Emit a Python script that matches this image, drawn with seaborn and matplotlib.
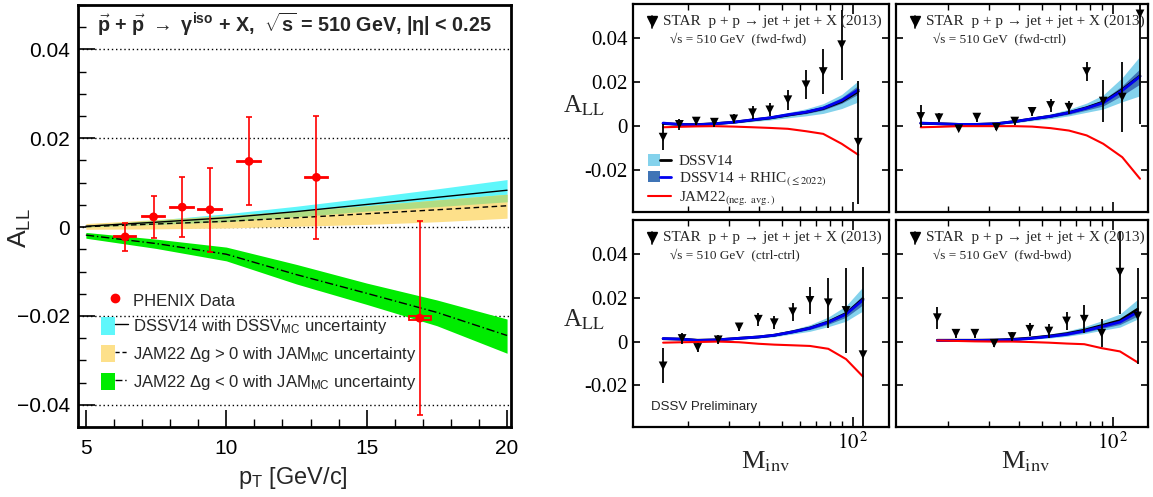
import numpy as np
import matplotlib
matplotlib.use("Agg")
import matplotlib.pyplot as plt
import seaborn as sns
from matplotlib.patches import Patch, Rectangle
from matplotlib.lines import Line2D
from matplotlib.legend_handler import HandlerTuple
from matplotlib.font_manager import FontProperties
from matplotlib.ticker import FixedLocator, MultipleLocator, FuncFormatter, NullFormatter, FixedFormatter

# ---------------- data: left panel (PHENIX isolated photons) ----------------
phenix_pt = [6.40, 7.41, 8.43, 9.42, 10.81, 13.21, 16.89]
phenix_all = [-0.0022, 0.0023, 0.0045, 0.0039, 0.0148, 0.0112, -0.0205]
phenix_stat = [0.0031, 0.0048, 0.0068, 0.0094, 0.0099, 0.0139, 0.0218]
phenix_binhw = [0.40, 0.40, 0.42, 0.42, 0.42, 0.42, 0.40]
phenix_sys = [0.0001, 0.0001, 0.0001, 0.0001, 0.0001, 0.0001, 0.0005]

theory_pt = [5.0, 7.5, 10.0, 12.5, 15.0, 17.5, 20.0]
dssv_mid = [0.0002, 0.0011, 0.0021, 0.0035, 0.0051, 0.0067, 0.0083]
dssv_hi = [0.0004, 0.0016, 0.0030, 0.0047, 0.0066, 0.0086, 0.0107]
dssv_lo = [0.0000, 0.0006, 0.0012, 0.0023, 0.0036, 0.0046, 0.0057]
jampos_mid = [0.0001, 0.0007, 0.0013, 0.0021, 0.0030, 0.0039, 0.0048]
jampos_hi = [0.0008, 0.0017, 0.0026, 0.0036, 0.0048, 0.0061, 0.0074]
jampos_lo = [-0.0005, -0.0004, -0.0002, 0.0002, 0.0006, 0.0012, 0.0020]
jamneg_mid = [-0.0018, -0.0037, -0.0061, -0.0107, -0.0149, -0.0192, -0.0244]
jamneg_hi = [-0.0012, -0.0027, -0.0045, -0.0084, -0.0126, -0.0164, -0.0207]
jamneg_lo = [-0.0025, -0.0048, -0.0076, -0.0128, -0.0174, -0.0222, -0.0284]

left_xticks = [5, 10, 15, 20]

# ---------------- data: STAR dijets, 4 topologies ----------------
ff_m = [15.7, 18.4, 21.7, 25.9, 31.3, 37.6, 44.5, 53.1, 63.4, 75.0, 89.8, 105.6]
ff_all = [-0.0050, 0.0008, 0.0023, 0.0018, 0.0033, 0.0061, 0.0074, 0.0120, 0.0188, 0.0248, 0.0370, -0.0073]
ff_err = [0.0060, 0.0025, 0.0020, 0.0020, 0.0020, 0.0030, 0.0030, 0.0045, 0.0065, 0.0104, 0.0160, 0.0280]
ff_dssv = [0.0012, 0.0008, 0.0007, 0.0011, 0.0018, 0.0028, 0.0037, 0.0050, 0.0063, 0.0080, 0.0112, 0.0158]
ff_rhic = [0.0014, 0.0008, 0.0006, 0.0011, 0.0018, 0.0029, 0.0038, 0.0052, 0.0064, 0.0082, 0.0117, 0.0165]
ff_dssv_hw = [0.0003, 0.0003, 0.0003, 0.0004, 0.0005, 0.0007, 0.0009, 0.0012, 0.0016, 0.0022, 0.0032, 0.0048]
ff_rhic_hw = [0.0002, 0.0002, 0.0002, 0.0002, 0.0003, 0.0003, 0.0004, 0.0005, 0.0007, 0.0009, 0.0013, 0.0020]
ff_jam = [-0.0005, -0.0003, -0.0001, 0.0000, -0.0002, -0.0005, -0.0008, -0.0012, -0.0023, -0.0035, -0.0080, -0.0130]

fc_m = [15.4, 18.4, 22.3, 26.6, 32.2, 38.5, 45.6, 54.6, 65.3, 77.6, 91.2, 109.8, 130.5]
fc_all = [0.0044, 0.0038, -0.0012, 0.0041, -0.0005, 0.0023, 0.0067, 0.0094, 0.0086, 0.0248, 0.0114, 0.0132, 0.0510]
fc_err = [0.0050, 0.0020, 0.0012, 0.0020, 0.0012, 0.0018, 0.0022, 0.0030, 0.0030, 0.0045, 0.0095, 0.0160, 0.0500]
fc_dssv = [0.0013, 0.0011, 0.0008, 0.0008, 0.0011, 0.0021, 0.0033, 0.0045, 0.0062, 0.0084, 0.0110, 0.0166, 0.0228]
fc_rhic = [0.0014, 0.0011, 0.0008, 0.0008, 0.0011, 0.0021, 0.0033, 0.0045, 0.0061, 0.0082, 0.0106, 0.0162, 0.0226]
fc_dssv_hw = [0.0004, 0.0003, 0.0003, 0.0003, 0.0004, 0.0006, 0.0008, 0.0011, 0.0015, 0.0021, 0.0032, 0.0055, 0.0090]
fc_rhic_hw = [0.0002, 0.0002, 0.0002, 0.0002, 0.0002, 0.0003, 0.0004, 0.0005, 0.0007, 0.0009, 0.0014, 0.0022, 0.0035]
fc_jam = [-0.0005, -0.0003, 0.0000, 0.0000, 0.0000, 0.0000, -0.0002, -0.0009, -0.0020, -0.0042, -0.0080, -0.0141, -0.0239]

cc_m = [15.7, 18.9, 22.0, 26.9, 33.0, 39.8, 46.5, 55.7, 65.9, 78.8, 93.7, 110.6]
cc_all = [-0.0111, 0.0014, -0.0027, 0.0008, 0.0067, 0.0102, 0.0086, 0.0136, 0.0188, 0.0177, 0.0142, -0.0060]
cc_err = [0.0080, 0.0025, 0.0020, 0.0020, 0.0020, 0.0030, 0.0030, 0.0040, 0.0060, 0.0115, 0.0195, 0.0400]
cc_dssv = [0.0013, 0.0011, 0.0006, 0.0008, 0.0015, 0.0021, 0.0029, 0.0045, 0.0062, 0.0090, 0.0128, 0.0195]
cc_rhic = [0.0014, 0.0011, 0.0005, 0.0008, 0.0015, 0.0021, 0.0029, 0.0044, 0.0061, 0.0088, 0.0125, 0.0190]
cc_dssv_hw = [0.0003, 0.0003, 0.0003, 0.0003, 0.0004, 0.0005, 0.0007, 0.0010, 0.0015, 0.0022, 0.0035, 0.0055]
cc_rhic_hw = [0.0002, 0.0002, 0.0002, 0.0002, 0.0002, 0.0002, 0.0003, 0.0004, 0.0006, 0.0009, 0.0014, 0.0022]
cc_jam = [-0.0005, -0.0003, -0.0002, 0.0000, -0.0003, -0.0010, -0.0014, -0.0017, -0.0020, -0.0033, -0.0080, -0.0160]

fb_m = [18.1, 21.7, 26.1, 31.5, 37.5, 44.6, 53.7, 63.8, 75.8, 89.8, 107.4, 127.6]
fb_all = [0.0109, 0.0038, 0.0038, -0.0008, 0.0023, 0.0056, 0.0048, 0.0094, 0.0102, 0.0038, 0.0317, 0.0117]
fb_err = [0.0050, 0.0020, 0.0020, 0.0015, 0.0020, 0.0030, 0.0030, 0.0040, 0.0065, 0.0065, 0.0190, 0.0220]
fb_dssv = [0.0006, 0.0006, 0.0006, 0.0007, 0.0010, 0.0016, 0.0025, 0.0036, 0.0052, 0.0073, 0.0096, 0.0148]
fb_rhic = [0.0005, 0.0005, 0.0005, 0.0006, 0.0008, 0.0014, 0.0023, 0.0033, 0.0048, 0.0068, 0.0089, 0.0135]
fb_dssv_hw = [0.0002, 0.0002, 0.0002, 0.0003, 0.0004, 0.0006, 0.0009, 0.0012, 0.0016, 0.0022, 0.0030, 0.0045]
fb_rhic_hw = [0.0001, 0.0001, 0.0001, 0.0001, 0.0002, 0.0002, 0.0003, 0.0005, 0.0006, 0.0008, 0.0011, 0.0018]
fb_jam = [0.0005, 0.0003, 0.0001, 0.0000, 0.0000, -0.0002, -0.0005, -0.0009, -0.0012, -0.0030, -0.0045, -0.0095]

topology_labels = ["(fwd-fwd)", "(fwd-ctrl)", "(ctrl-ctrl)", "(fwd-bwd)"]
right_yticks = [-0.02, 0.0, 0.02, 0.04]

# ---------------- style ----------------
sns.set_theme(style="white")
plt.rcParams["font.family"] = ["Liberation Sans", "DejaVu Sans"]
plt.rcParams["mathtext.fontset"] = "custom"
plt.rcParams["mathtext.rm"] = "Liberation Sans"
plt.rcParams["mathtext.it"] = "Liberation Sans:italic"
plt.rcParams["mathtext.bf"] = "Liberation Sans:bold"
plt.rcParams["axes.unicode_minus"] = True

C_CYAN = "#5ff7fb"
C_YEL = "#fde08a"
C_OVL = "#b0dc82"
C_GREEN = "#00ec00"
C_LIGHT = "#84d2ec"
C_DARK = "#3f74b6"

W, H = 1153, 497
fig = plt.figure(figsize=(W / 100, H / 100), dpi=100)


def px_axes(x0, y0, x1, y1):
    return fig.add_axes([x0 / W, 1 - y1 / H, (x1 - x0) / W, (y1 - y0) / H])


# ================= left panel =================
ax = px_axes(78, 5, 511, 427)
pt = np.array(theory_pt)
ax.fill_between(pt, dssv_lo, dssv_hi, color=C_CYAN, lw=0, zorder=1)
ax.fill_between(pt, jampos_lo, jampos_hi, color=C_YEL, lw=0, zorder=1.1)
ov_lo = np.maximum(dssv_lo, jampos_lo)
ov_hi = np.minimum(dssv_hi, jampos_hi)
ax.fill_between(pt, ov_lo, ov_hi, where=ov_hi > ov_lo, color=C_OVL, lw=0, zorder=1.2, interpolate=True)
ax.fill_between(pt, jamneg_lo, jamneg_hi, color=C_GREEN, lw=0, zorder=1.3)
sns.lineplot(x=theory_pt, y=dssv_mid, color="black", lw=1.0, ax=ax, zorder=2)
sns.lineplot(x=theory_pt, y=jampos_mid, color="black", lw=1.0, ax=ax, zorder=2,
             linestyle=(0, (4, 2.5)))
sns.lineplot(x=theory_pt, y=jamneg_mid, color="black", lw=1.0, ax=ax, zorder=2,
             linestyle=(0, (6, 2, 1, 2)))

for x, y, hw, sy in zip(phenix_pt, phenix_all, phenix_binhw, phenix_sys):
    ax.add_patch(Rectangle((x - hw, y - sy), 2 * hw, 2 * sy, fill=False, edgecolor="red", lw=1.3, zorder=3))
ax.errorbar(phenix_pt, phenix_all, yerr=phenix_stat, fmt="none", ecolor="red", elinewidth=1.2,
            capsize=2.5, capthick=1.2, zorder=4)
sns.scatterplot(x=phenix_pt, y=phenix_all, color="red", s=40, edgecolor="none", ax=ax, zorder=5)

ax.set_xlim(4.72, 20.14)
ax.set_ylim(-0.045, 0.05)
ax.xaxis.set_major_locator(FixedLocator(left_xticks))
ax.xaxis.set_minor_locator(MultipleLocator(1))
ax.yaxis.set_major_locator(MultipleLocator(0.02))
ax.yaxis.set_minor_locator(MultipleLocator(0.005))
ax.yaxis.set_major_formatter(FuncFormatter(lambda v, p: "0" if abs(v) < 1e-9 else f"{v:.2f}".replace("-", "\u2212")))
ax.tick_params(which="both", direction="in", top=False, right=False, left=True, bottom=True, colors="black")
ax.tick_params(which="major", length=12, width=1.2, labelsize=15, pad=6)
ax.tick_params(which="minor", length=6, width=1.0)
ax.tick_params(axis="x", which="major", pad=9)
ax.set_axisbelow(True)
ax.yaxis.grid(True, which="major", linestyle=(0, (1, 2)), color="black", lw=1.0)
ax.xaxis.grid(False)
for s in ax.spines.values():
    s.set_color("black")
    s.set_linewidth(2.0)
ax.set_xlabel("")
ax.set_ylabel("")

ax.text(0.5, 0.955,
        r"$\vec{\mathbf{p}}$ + $\vec{\mathbf{p}}$ $\rightarrow$ " + "\u03b3" + r"$^{\mathbf{iso}}$ + X,  $\sqrt{\mathbf{s}}$ = 510 GeV, |" + "\u03b7" + "| < 0.25",
        transform=ax.transAxes, ha="center", va="center", fontsize=14.2, fontweight="bold")

handles = [
    Line2D([], [], marker="o", color="red", linestyle="none", markersize=6),
    (Patch(facecolor=C_CYAN, edgecolor="none"), Line2D([], [], color="black", lw=1)),
    (Patch(facecolor=C_YEL, edgecolor="none"), Line2D([], [], color="black", lw=1, linestyle=(0, (3, 2)))),
    (Patch(facecolor=C_GREEN, edgecolor="none"), Line2D([], [], color="black", lw=1, linestyle=(0, (5, 2, 1, 2)))),
]
labels = ["PHENIX Data",
          r"DSSV14 with DSSV$_{\mathrm{MC}}$ uncertainty",
          r"JAM22 $\Delta$g > 0 with JAM$_{\mathrm{MC}}$ uncertainty",
          r"JAM22 $\Delta$g < 0 with JAM$_{\mathrm{MC}}$ uncertainty"]
ax.legend(handles, labels, handler_map={tuple: HandlerTuple(ndivide=None, pad=0)},
          loc="upper left", bbox_to_anchor=(0.054, 0.322), frameon=False, fontsize=12,
          handlelength=1.6, handleheight=1.25, labelspacing=0.5, handletextpad=0.3,
          borderpad=0, borderaxespad=0)

fig.text(20 / W, 1 - 228 / H, r"A$_{\mathrm{LL}}$", rotation=90, ha="center", va="center", fontsize=19)
fig.text(293 / W, 1 - 478 / H, r"p$_{\mathrm{T}}$ [GeV/c]", ha="center", va="center", fontsize=17)

# ================= right panels =================
serif = ["Liberation Serif", "DejaVu Serif"]
panels = [
    ((633, 4, 889, 212), (11.7, 142.6), ff_m, ff_all, ff_err, ff_dssv, ff_rhic, ff_dssv_hw, ff_rhic_hw, ff_jam, True, False),
    ((896, 4, 1148, 212), (12.1, 141.1), fc_m, fc_all, fc_err, fc_dssv, fc_rhic, fc_dssv_hw, fc_rhic_hw, fc_jam, False, False),
    ((633, 220, 889, 427), (11.7, 142.6), cc_m, cc_all, cc_err, cc_dssv, cc_rhic, cc_dssv_hw, cc_rhic_hw, cc_jam, True, True),
    ((896, 220, 1148, 427), (12.1, 141.1), fb_m, fb_all, fb_err, fb_dssv, fb_rhic, fb_dssv_hw, fb_rhic_hw, fb_jam, False, True),
]

axes_r = []
for i, (box, xl, m, a, e, dssv, rhic, dhw, rhw, jam, ylab, xlab) in enumerate(panels):
    axr = px_axes(*box)
    axes_r.append(axr)
    m = np.array(m)
    dssv = np.array(dssv); rhic = np.array(rhic); dhw = np.array(dhw); rhw = np.array(rhw)
    axr.fill_between(m, dssv - dhw, dssv + dhw, color=C_LIGHT, lw=0, zorder=1)
    axr.fill_between(m, rhic - rhw, rhic + rhw, color=C_DARK, lw=0, zorder=1.1)
    sns.lineplot(x=m, y=dssv, color="black", lw=2.0, ax=axr, zorder=2)
    sns.lineplot(x=m, y=rhic, color="#0000f0", lw=2.0, ax=axr, zorder=2.1)
    sns.lineplot(x=m, y=jam, color="#ff0000", lw=1.5, ax=axr, zorder=2.2)
    axr.errorbar(m, a, yerr=e, fmt="none", ecolor="black", elinewidth=1.3, zorder=3)
    sns.scatterplot(x=m, y=a, marker="v", color="black", s=40, edgecolor="none", ax=axr, zorder=4)

    axr.set_xscale("log")
    axr.set_xlim(*xl)
    axr.set_ylim(-0.039, 0.0555)
    axr.xaxis.set_major_locator(FixedLocator([100]))
    axr.xaxis.set_minor_locator(FixedLocator([20, 30, 40, 50, 60, 70, 80, 90]))
    axr.xaxis.set_minor_formatter(NullFormatter())
    if xlab:
        axr.xaxis.set_major_formatter(FixedFormatter([r"$10^{\,2}$"]))
    else:
        axr.xaxis.set_major_formatter(NullFormatter())
    axr.yaxis.set_major_locator(FixedLocator(right_yticks))
    if ylab:
        axr.yaxis.set_major_formatter(FuncFormatter(lambda v, p: "0" if abs(v) < 1e-9 else f"{v:.2f}"))
    else:
        axr.yaxis.set_major_formatter(NullFormatter())
    axr.tick_params(which="both", direction="in", top=True, right=True, left=True, bottom=True, colors="black")
    axr.tick_params(which="major", length=7, width=1.2, labelsize=15, pad=4, labelfontfamily="Liberation Serif")
    axr.tick_params(which="minor", length=4, width=1.0)
    axr.tick_params(axis="y", which="major", length=5)
    for lbl in axr.get_xticklabels() + axr.get_yticklabels():
        lbl.set_math_fontfamily("stix")
    axr.grid(False)
    for s in axr.spines.values():
        s.set_color("black")
        s.set_linewidth(1.6)
    axr.set_xlabel("")
    axr.set_ylabel("")

    # STAR header with marker
    axr.plot([0.074, 0.074], [0.885, 0.94], color="black", lw=1.2, transform=axr.transAxes)
    axr.plot([0.074], [0.918], marker="v", color="black", markersize=6.5, linestyle="none", transform=axr.transAxes)
    axr.text(0.118, 0.918, "STAR  p + p \u2192 jet + jet + X (2013)", transform=axr.transAxes,
             ha="left", va="center", fontsize=11, family=serif)
    axr.text(0.145, 0.826, "\u221as = 510 GeV  " + topology_labels[i], transform=axr.transAxes,
             ha="left", va="center", fontsize=9.5, family=serif)

# legend in first STAR panel
lh = [
    (Patch(facecolor=C_LIGHT, edgecolor="none"), Line2D([], [], color="black", lw=2)),
    (Patch(facecolor=C_DARK, edgecolor="none"), Line2D([], [], color="#0000f0", lw=2)),
    Line2D([], [], color="red", lw=1.5),
]
ll = ["DSSV14", r"DSSV14 + RHIC$_{(\leq 2022)}$", r"JAM22$_{\mathrm{(neg.\ avg.)}}$"]
axes_r[0].legend(lh, ll, handler_map={tuple: HandlerTuple(ndivide=None, pad=0)},
                 loc="lower left", bbox_to_anchor=(0.06, 0.02), frameon=False,
                 prop=FontProperties(family="Liberation Serif", size=11, math_fontfamily="stix"),
                 handlelength=1.5, handleheight=0.75, labelspacing=0.12, handletextpad=0.5,
                 borderpad=0, borderaxespad=0)

axes_r[2].text(0.07, 0.097, "DSSV Preliminary", transform=axes_r[2].transAxes, ha="left", va="center",
               fontsize=9.5, family=["Liberation Sans"])

for yc in (106, 320):
    fig.text(584 / W, 1 - yc / H, r"A$_{\mathrm{LL}}$", ha="center", va="center", fontsize=18,
             family=serif, math_fontfamily="stix")
for xc in (766, 1026):
    fig.text(xc / W, 1 - 462 / H, r"M$_{\mathrm{inv}}$", ha="center", va="center", fontsize=19,
             family=serif, math_fontfamily="stix")

fig.savefig("out.png", dpi=100)
